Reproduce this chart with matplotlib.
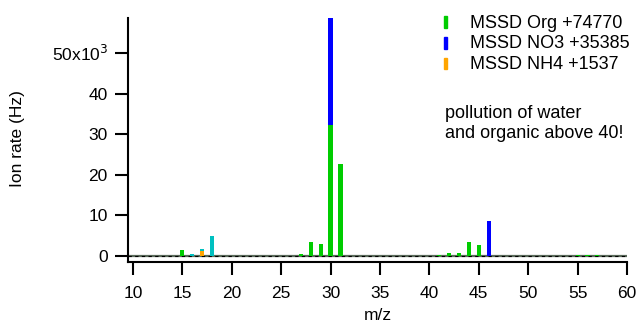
import numpy as np
import matplotlib
matplotlib.use("Agg")
import matplotlib.pyplot as plt

plt.rcParams["font.family"] = ["Liberation Sans", "DejaVu Sans"]

# ---- data (ion rate in Hz per m/z) ----
ORG_MZ   = [15, 27, 28, 29, 30, 31, 41, 42, 43, 44, 45, 55, 56, 57]
ORG_VAL  = [1500, 500, 3400, 2900, 32200, 22600, 200, 750, 750, 3400, 2700, 200, 150, 150]
NO3_MZ   = [30, 46]
NO3_VAL  = [26400, 8700]
NH4_MZ   = [17]
NH4_VAL  = [1150]
H2O_MZ   = [16, 17, 18]
H2O_VAL  = [500, 450, 4900]

LEGEND_LABELS = ["MSSD Org +74770", "MSSD NO3 +35385", "MSSD NH4 +1537"]
NOTE_LINES = ["pollution of water", "and organic above 40!"]

C_ORG = "#00cc00"
C_NO3 = "#0000ff"
C_NH4 = "#ffa500"
C_H2O = "#00c0c0"

BAR_W = 0.42
W, H = 638, 324


def stacked(mz_all, series):
    """Return bottoms for each series so they stack per m/z."""
    base = {m: 0.0 for m in mz_all}
    out = []
    for mz, val in series:
        bottoms = [base[m] for m in mz]
        for m, v in zip(mz, val):
            base[m] += v
        out.append(bottoms)
    return out


def fx(px):
    return px / W


def fy(py):
    return 1 - py / H


def main():
    fig = plt.figure(figsize=(W / 100, H / 100), dpi=100)
    ax = fig.add_axes([fx(128), fy(262), fx(627 - 128), (262 - 18) / H])

    series = [(ORG_MZ, ORG_VAL), (NH4_MZ, NH4_VAL), (NO3_MZ, NO3_VAL), (H2O_MZ, H2O_VAL)]
    colors = [C_ORG, C_NH4, C_NO3, C_H2O]
    mz_all = sorted(set(ORG_MZ + NO3_MZ + NH4_MZ + H2O_MZ))
    bottoms = stacked(mz_all, series)
    for (mz, val), b, c in zip(series, bottoms, colors):
        ax.bar(mz, val, bottom=b, width=BAR_W, color=c, linewidth=0)

    # zero line (Igor style)
    ax.axhline(0, color="#5a6a5a", linewidth=1.6, zorder=0.5)
    ax.axhline(0, color="black", linewidth=0.8, linestyle=(0, (3, 3)), zorder=0.6)

    ax.set_xlim(9.5, 60)
    ax.set_ylim(-1500, 58600)
    ax.set_xticks(np.arange(10, 61, 5))
    ax.set_yticks([0, 10000, 20000, 30000, 40000, 50000])
    ax.set_yticklabels(["0", "10", "20", "30", "40", r"50x10$^{3}$"])

    for s in ("top", "right"):
        ax.spines[s].set_visible(False)
    for s in ("left", "bottom"):
        ax.spines[s].set_linewidth(1.5)
    ax.tick_params(axis="both", length=9.5, width=1.5, labelsize=12.5)
    ax.tick_params(axis="y", pad=5)
    ax.tick_params(axis="x", pad=8)

    fig.text(fx(378), fy(315), "m/z", fontsize=12.5, ha="center", va="center")
    fig.text(fx(18), fy(139), "Ion rate (Hz)", fontsize=12.5, rotation=90,
             ha="center", va="center")

    # legend drawn as short vertical swatches
    for lab, c, yb in zip(LEGEND_LABELS, [C_ORG, C_NO3, C_NH4], [27.5, 48.5, 69.5]):
        fig.patches.append(plt.Rectangle((fx(443.5), fy(yb)), fx(3.5), 11 / H,
                                         transform=fig.transFigure, color=c, figure=fig))
        fig.text(fx(470), fy(yb), lab, fontsize=13, va="baseline", ha="left")

    for line, yb in zip(NOTE_LINES, [118, 138]):
        fig.text(fx(445), fy(yb), line, fontsize=13, va="baseline", ha="left")

    fig.savefig("out.png", dpi=100)


if __name__ == "__main__":
    main()
